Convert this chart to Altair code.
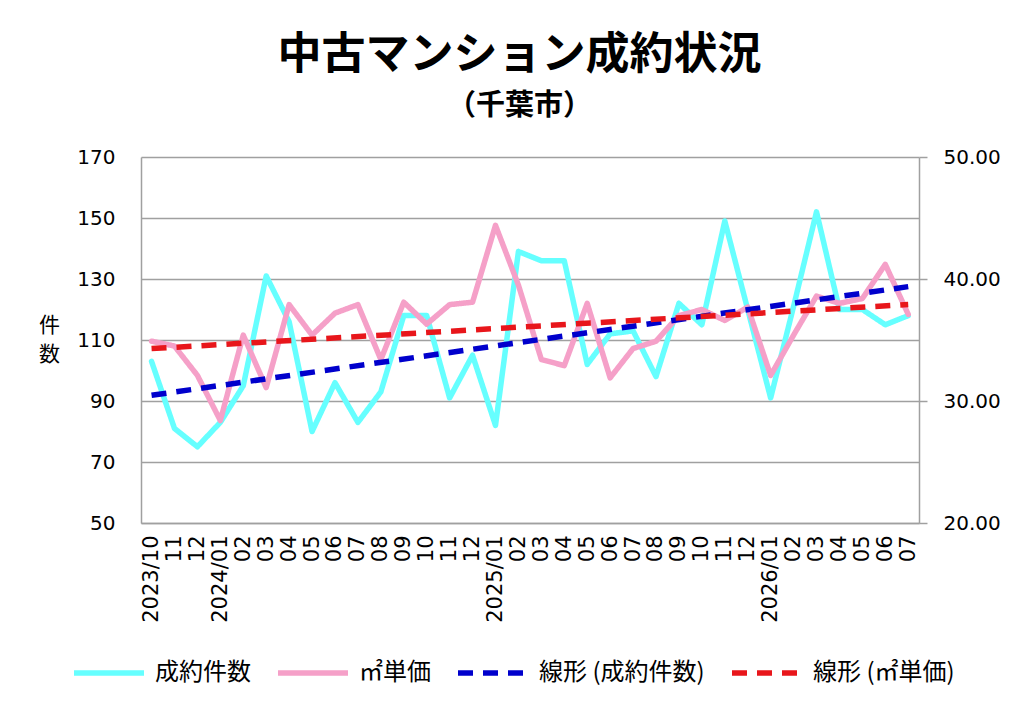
import json
import altair as alt
import pandas as pd

# ---- data ----
months = [
    "2023/10", "2023/11", "2023/12",
    "2024/01", "2024/02", "2024/03", "2024/04", "2024/05", "2024/06",
    "2024/07", "2024/08", "2024/09", "2024/10", "2024/11", "2024/12",
    "2025/01", "2025/02", "2025/03", "2025/04", "2025/05", "2025/06",
    "2025/07", "2025/08", "2025/09", "2025/10", "2025/11", "2025/12",
    "2026/01", "2026/02", "2026/03", "2026/04", "2026/05", "2026/06", "2026/07",
]
tick_labels = [
    "2023/10", "11", "12",
    "2024/01", "02", "03", "04", "05", "06", "07", "08", "09", "10", "11", "12",
    "2025/01", "02", "03", "04", "05", "06", "07", "08", "09", "10", "11", "12",
    "2026/01", "02", "03", "04", "05", "06", "07",
]
counts = [103, 81, 75, 83, 95, 131, 116, 80, 96, 83, 93, 118, 118, 91, 105,
          82, 139, 136, 136, 102, 112, 113, 98, 122, 115, 149, 120,
          91, 121, 152, 120, 120, 115, 118]
prices = [34.9, 34.5, 32.1, 28.4, 35.4, 31.1, 37.9, 35.4, 37.2, 37.9, 33.4,
          38.1, 36.3, 37.9, 38.1, 44.4, 39.5, 33.4, 32.9, 38.0, 31.9, 34.3,
          34.9, 37.0, 37.5, 36.6, 37.7, 32.1, 35.4, 38.6, 38.0, 38.4, 41.2, 37.1]

series_names = ["成約件数", "㎡単価", "線形 (成約件数)", "線形 (㎡単価)"]
series_colors = ["#66ffff", "#f5a0c8", "#0000cc", "#e8161b"]
series_dashes = [[1, 0], [1, 0], [15, 10], [15, 10]]
series_widths = [5.5, 5.5, 4, 4]

df = pd.DataFrame({"idx": list(range(len(months))), "month": months,
                   "count": counts, "price": prices})

JP = "Noto Sans CJK JP"
NUM = "DejaVu Sans"
GRID = "#a0a0a0"

legend = alt.Legend(
    title=None, orient="none", legendX=-70, legendY=478,
    direction="horizontal", columns=4, symbolType="stroke",
    symbolSize=4900, labelFontSize=24, labelFont=JP, labelColor="#000000",
    labelOffset=8, columnPadding=16, labelLimit=400,
)
color = alt.Color("series:N", scale=alt.Scale(domain=series_names, range=series_colors), legend=legend)
dash = alt.StrokeDash("series:N", scale=alt.Scale(domain=series_names, range=series_dashes), legend=legend)
swidth = alt.StrokeWidth("series:N", scale=alt.Scale(domain=series_names, range=series_widths), legend=legend)

x_enc = alt.X(
    "idx:Q",
    scale=alt.Scale(domain=[-0.46, 33.47], nice=False, zero=False),
    axis=alt.Axis(
        title=None, values=list(range(len(tick_labels))),
        labelExpr=json.dumps(tick_labels) + "[datum.value]",
        labelAngle=270, labelFont=NUM, labelFontSize=21, labelColor="#000000",
        labelPadding=12, ticks=False, grid=False, domainColor=GRID,
        domainWidth=1.5, labelOverlap=False, labelBound=False,
    ),
)

left_scale = alt.Scale(domain=[50, 170], nice=False, zero=False)
right_scale = alt.Scale(domain=[20, 50], nice=False, zero=False)

left_axis = alt.Axis(
    values=[50, 70, 90, 110, 130, 150, 170], grid=True, gridColor=GRID,
    gridWidth=1.5, ticks=False, domainColor=GRID, domainWidth=1.5,
    labelFont=NUM, labelFontSize=20, labelColor="#000000", labelPadding=26,
    title=["件", "数"], titleAngle=0, titleFont=JP, titleFontSize=21,
    titleFontWeight="normal", titleColor="#000000", titleX=-92, titleY=168,
    titleAlign="center", titleBaseline="middle", titleLineHeight=29,
)
right_axis = alt.Axis(
    orient="right", values=[20, 30, 40, 50], format=".2f", grid=False,
    ticks=True, tickSize=8, tickColor=GRID, tickWidth=1.5,
    domainColor=GRID, domainWidth=1.5, labelFont=NUM, labelFontSize=20,
    labelColor="#000000", labelPadding=16, title=None,
)

base = alt.Chart(df)

cnt_line = base.transform_calculate(series="'成約件数'").mark_line(strokeCap="round", strokeJoin="round").encode(
    x=x_enc, y=alt.Y("count:Q", scale=left_scale, axis=left_axis),
    color=color, strokeDash=dash, strokeWidth=swidth,
)
price_line = base.transform_calculate(series="'㎡単価'").mark_line(strokeCap="round", strokeJoin="round").encode(
    x=x_enc, y=alt.Y("price:Q", scale=right_scale, axis=right_axis),
    color=color, strokeDash=dash, strokeWidth=swidth,
)
cnt_trend = base.transform_regression("idx", "count", method="linear").transform_calculate(
    series="'線形 (成約件数)'").mark_line().encode(
    x=x_enc, y=alt.Y("count:Q", scale=left_scale, axis=None),
    color=color, strokeDash=dash, strokeWidth=swidth,
)
price_trend = base.transform_regression("idx", "price", method="linear").transform_calculate(
    series="'線形 (㎡単価)'").mark_line().encode(
    x=x_enc, y=alt.Y("price:Q", scale=right_scale, axis=None),
    color=color, strokeDash=dash, strokeWidth=swidth,
)

chart = alt.layer(cnt_line, price_line, cnt_trend, price_trend).resolve_scale(
    y="independent"
).properties(
    width=778, height=366,
    padding={"left": 30, "top": 26, "right": 8, "bottom": 10},
    background="white",
    title=alt.TitleParams(
        text="中古マンション成約状況", subtitle="（千葉市）",
        font=JP, fontSize=44, fontWeight="bold", color="#000000",
        subtitleFont=JP, subtitleFontSize=29, subtitleFontWeight="bold",
        subtitleColor="#000000", subtitlePadding=14,
        anchor="middle", frame="bounds", offset=26,
    ),
).configure_view(stroke=None)

chart.save("out.html", embed_options={"renderer": "svg", "actions": False})
